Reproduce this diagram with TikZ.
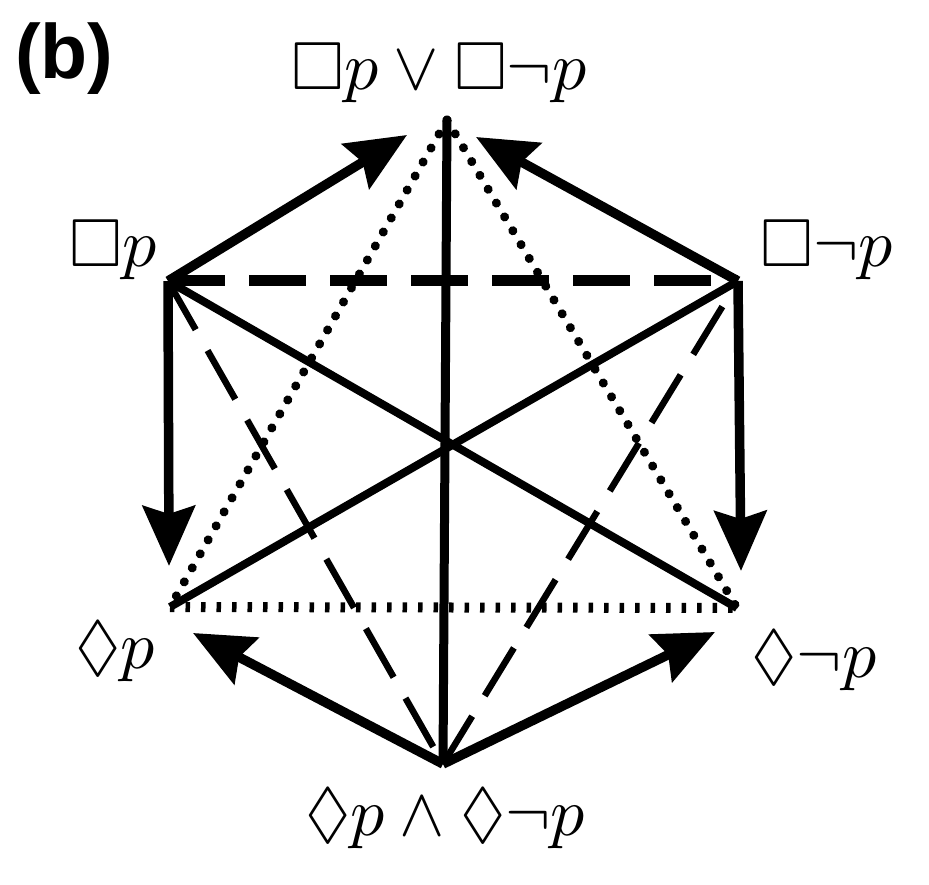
\documentclass[tikz,border=0pt]{standalone}
\usepackage{amssymb}
\usepackage{fontspec}
\newfontfamily\labelsans{Liberation Sans}
\usetikzlibrary{arrows.meta}
\begin{document}
\begin{tikzpicture}[x=1pt,y=-1pt,
  lbl/.style={inner sep=0pt, scale=6.8},
  arr/.style={line width=9.5pt, -{Stealth[length=60pt,width=52pt,inset=8pt]}},
  solidl/.style={line width=8pt},
  vert/.style={line width=9pt},
  dashh/.style={line width=11pt, dash pattern=on 57pt off 24pt},
  dashd/.style={line width=6.5pt, dash pattern=on 56pt off 24pt},
  doth/.style={line width=10pt, dash pattern=on 4.5pt off 11pt},
  dotd/.style={line width=9pt, line cap=round, dash pattern=on 0.1pt off 16pt},
]
\useasboundingbox[fill=white] (0,0) rectangle (929,885);
% vertices
\coordinate (T) at (447,120);
\coordinate (LT) at (168,281);
\coordinate (RT) at (738,281);
\coordinate (LB) at (170,607);
\coordinate (RB) at (737,608);
\coordinate (B) at (443,764);
% arrow tips
\coordinate (tTL) at (407,135);
\coordinate (tTR) at (476,137);
\coordinate (tLB) at (169,566);
\coordinate (tRB) at (741,571);
\coordinate (tBL) at (193,633);
\coordinate (tBR) at (715,632);
% labels
\node[lbl, anchor=base] (top) at (439,90) {$\Box p\vee\Box\neg p$};
\node[lbl, anchor=base west] (bp) at (68,267) {$\Box p$};
\node[lbl, anchor=base west] (bnp) at (759,267) {$\Box\neg p$};
\node[lbl, anchor=base west] (dp) at (74,668) {$\lozenge p$};
\node[lbl, anchor=base west] (dnp) at (750,677) {$\lozenge\neg p$};
\node[lbl, anchor=base] (bot) at (445,835) {$\lozenge p\wedge\lozenge\neg p$};
\node[inner sep=0pt, anchor=base west, font={\labelsans\bfseries\fontsize{77}{80}\selectfont}] (b) at (15,79) {(b)};
% lines
\draw[dashh] (LT) -- (RT);
\draw[doth] (LB) -- (RB);
\draw[dotd] (T) -- (LB);
\draw[dotd] (T) -- (RB);
\draw[dashd] (LT) -- (B);
\draw[dashd] (B) -- (RT);
\draw[solidl] (LT) -- (RB);
\draw[solidl] (RT) -- (LB);
\draw[vert] (T) -- (B);
% arrows
\draw[arr] (LT) -- (tTL);
\draw[arr] (RT) -- (tTR);
\draw[arr] (LT) -- (tLB);
\draw[arr] (RT) -- (tRB);
\draw[arr] (B) -- (tBL);
\draw[arr] (B) -- (tBR);
\end{tikzpicture}
\end{document}
